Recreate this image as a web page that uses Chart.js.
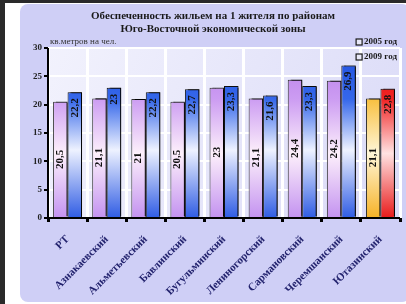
<!DOCTYPE html>
<html><head><meta charset="utf-8">
<script src="https://cdn.jsdelivr.net/npm/chart.js@4.4.1/dist/chart.umd.min.js"></script>
<style>html,body{margin:0;padding:0;background:#fff;}#c{display:block;}</style>
</head><body>
<div style="width:406px;height:304px;position:relative;"><canvas id="c" width="406" height="304"></canvas></div>
<script>
const categories = ["РТ","Азнакаевский","Альметьевский","Бавлинский","Бугульминский","Лениногорский","Сармановский","Черемшанский","Ютазинский"];
const values2005 = [20.5, 21.1, 21, 20.5, 23, 21.1, 24.4, 24.2, 21.1];
const values2009 = [22.2, 23, 22.2, 22.7, 23.3, 21.6, 23.3, 26.9, 22.8];
const seriesNames = ["2005 год", "2009 год"];
const titleLines = ["Обеспеченность жильем на 1 жителя по районам", "Юго-Восточной экономической зоны"];
const unitLabel = "кв.метров на чел.";
const yTicks = [0, 5, 10, 15, 20, 25, 30];

const SERIF = '"Liberation Serif", "DejaVu Serif", serif';

function grad(chart, stops) {
  const a = chart.chartArea;
  if (!a) return stops[0][1];
  const g = chart.ctx.createLinearGradient(0, a.top, 0, a.bottom);
  stops.forEach(s => g.addColorStop(s[0], s[1]));
  return g;
}
const violet = [[0,'#b57ae8'],[0.3,'#cc9cf2'],[0.62,'#fdf0fb'],[1,'#c392f0']];
const blue = [[0,'#1f4fe0'],[0.3,'#3567ea'],[0.6,'#eef2ff'],[1,'#2f5ce4']];
const orange = [[0,'#f5a818'],[0.3,'#f8c040'],[0.62,'#fff6d8'],[1,'#f6b226']];
const red = [[0,'#e00c0c'],[0.3,'#f02424'],[0.62,'#ffe2e2'],[1,'#e81a1a']];

const decor = {
  id: 'decor',
  beforeDraw(chart) {
    const ctx = chart.ctx;
    ctx.save();
    ctx.fillStyle = '#ffffff';
    ctx.fillRect(0, 0, 406, 304);
    ctx.fillStyle = '#2a2a2a';
    ctx.fillRect(0, 0, 5, 304);
    ctx.fillRect(0, 0, 406, 3);
    ctx.fillStyle = '#cfcff6';
    ctx.beginPath();
    ctx.roundRect(20, 4, 390, 298, 8);
    ctx.fill();
    const a = chart.chartArea;
    const g = ctx.createLinearGradient(a.left, a.top, a.right, a.bottom);
    g.addColorStop(0, '#f2f2fd');
    g.addColorStop(1, '#dadaf7');
    ctx.fillStyle = g;
    ctx.fillRect(a.left, a.top, a.right - a.left, a.bottom - a.top);
    ctx.strokeStyle = '#b0b0c8';
    ctx.lineWidth = 1;
    ctx.strokeRect(a.left + 0.5, a.top + 0.5, a.right - a.left - 1, a.bottom - a.top);
    ctx.restore();
  },
  beforeDatasetsDraw(chart) {
    const ctx = chart.ctx;
    ctx.save();
    ctx.shadowColor = 'rgba(0,0,0,0.95)';
    ctx.shadowOffsetX = 3;
    ctx.shadowOffsetY = -1;
    ctx.shadowBlur = 1;
  },
  afterDatasetsDraw(chart) {
    const ctx = chart.ctx;
    ctx.restore();
    ctx.save();
    ctx.fillStyle = '#111';
    ctx.font = 'bold 11px ' + SERIF;
    ctx.textBaseline = 'middle';
    chart.data.datasets.forEach((ds, di) => {
      const meta = chart.getDatasetMeta(di);
      meta.data.forEach((el, i) => {
        const txt = String(ds.data[i]).replace('.', ',');
        ctx.save();
        ctx.translate(el.x, 0);
        ctx.rotate(-Math.PI / 2);
        if (di === 0) {
          ctx.textAlign = 'center';
          ctx.fillText(txt, -(el.y + el.base) / 2, 0);
        } else {
          ctx.textAlign = 'right';
          ctx.fillText(txt, -(el.y + 6), 0);
        }
        ctx.restore();
      });
    });
    ctx.restore();
  },
  afterDraw(chart) {
    const ctx = chart.ctx;
    const a = chart.chartArea;
    ctx.save();
    ctx.fillStyle = '#1a1a1a';
    ctx.font = 'bold 11px ' + SERIF;
    ctx.textAlign = 'center';
    ctx.textBaseline = 'middle';
    ctx.fillText(titleLines[0], 213, 16);
    ctx.fillText(titleLines[1], 213, 29);
    ctx.font = '9px ' + SERIF;
    ctx.textAlign = 'left';
    ctx.fillStyle = '#333';
    ctx.fillText(unitLabel, 50, 42);
    ctx.font = 'bold 9px ' + SERIF;
    const leg = [[seriesNames[0], 42], [seriesNames[1], 57]];
    leg.forEach(([t, y]) => {
      const w = ctx.measureText(t).width;
      const x = 397 - w;
      ctx.fillStyle = '#1a1a1a';
      ctx.fillText(t, x, y);
      ctx.fillStyle = '#e8e8f8';
      ctx.fillRect(x - 8, y - 3, 6, 6);
      ctx.strokeStyle = '#1a1a1a';
      ctx.lineWidth = 1.2;
      ctx.strokeRect(x - 8, y - 3, 6, 6);
    });
    ctx.strokeStyle = '#000';
    ctx.lineWidth = 2;
    ctx.beginPath();
    ctx.moveTo(a.left, a.top);
    ctx.lineTo(a.left, a.bottom);
    ctx.lineTo(a.right, a.bottom);
    ctx.stroke();
    ctx.restore();
  }
};

const chart = new Chart(document.getElementById('c'), {
  type: 'bar',
  data: {
    labels: categories,
    datasets: [
      {
        label: seriesNames[0],
        data: values2005,
        backgroundColor: c => grad(c.chart, c.dataIndex === 8 ? orange : violet),
        borderColor: '#333',
        borderWidth: 1,
        categoryPercentage: 0.74,
        barPercentage: 1.0
      },
      {
        label: seriesNames[1],
        data: values2009,
        backgroundColor: c => grad(c.chart, c.dataIndex === 8 ? red : blue),
        borderColor: '#111',
        borderWidth: 1,
        categoryPercentage: 0.74,
        barPercentage: 1.0
      }
    ]
  },
  options: {
    responsive: false,
    animation: false,
    devicePixelRatio: 1,
    layout: { padding: { left: 20, top: 48, right: 6, bottom: 0 } },
    plugins: { legend: { display: false }, title: { display: false }, tooltip: { enabled: false } },
    scales: {
      x: {
        grid: { color: '#ffffff', lineWidth: 3, drawTicks: true, tickLength: 4, tickColor: '#000', offset: true },
        border: { display: false },
        ticks: {
          color: '#23236e',
          font: { family: SERIF, size: 11, weight: 'bold' },
          minRotation: 45, maxRotation: 45, padding: 11, autoSkip: false
        },
        afterFit(scale) { scale.height = 86; }
      },
      y: {
        min: 0, max: 30,
        afterBuildTicks(scale) { scale.ticks = yTicks.map(v => ({ value: v })); },
        grid: { color: '#ffffff', lineWidth: 2, tickLength: 4, tickColor: '#000' },
        border: { display: false },
        ticks: {
          color: '#222',
          font: { family: SERIF, size: 9, weight: 'bold' },
          padding: 2
        },
        afterFit(scale) { scale.width = 28; }
      }
    }
  },
  plugins: [decor]
});
</script>
</body></html>
